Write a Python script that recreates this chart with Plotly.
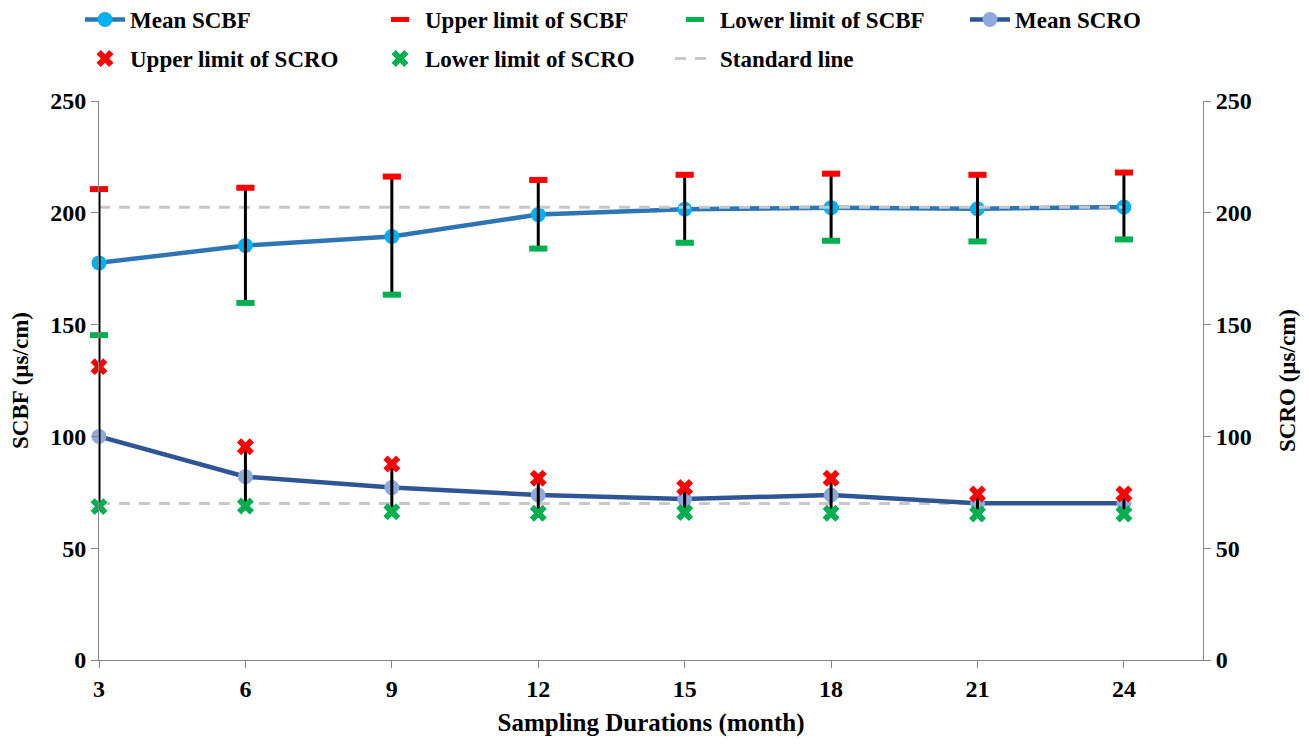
import plotly.graph_objects as go

months = [3, 6, 9, 12, 15, 18, 21, 24]

scbf_mean = [177.6, 185.4, 189.4, 199.2, 201.6, 202.3, 201.8, 202.6]
scbf_upper = [210.6, 211.2, 216.2, 214.7, 217.0, 217.5, 217.0, 218.0]
scbf_lower = [145.3, 159.7, 163.4, 184.0, 186.6, 187.5, 187.2, 188.1]
# extent of the black bar drawn around each SCBF mean
scbf_bar_top = [210.6, 211.2, 216.2, 214.7, 217.0, 217.5, 217.0, 218.0]
scbf_bar_bottom = [131.2, 159.7, 163.4, 184.0, 186.6, 187.5, 187.2, 188.1]

scro_mean = [100.0, 82.0, 77.1, 73.8, 72.0, 73.8, 70.1, 70.1]
scro_upper = [131.2, 95.4, 87.7, 81.3, 77.2, 81.3, 74.2, 74.2]
scro_lower = [68.6, 68.9, 66.3, 65.6, 66.0, 65.6, 65.3, 65.3]

standard_scbf = 202.5
standard_scro = 70.0

FONT = "Liberation Serif, DejaVu Serif, serif"
FS = 23

fig = go.Figure()

# mean lines
fig.add_trace(go.Scatter(
    x=months, y=scbf_mean, name="Mean SCBF", mode="lines+markers",
    line=dict(color="#2E75B6", width=4.5),
    marker=dict(color="#00B0F0", size=15, symbol="circle"),
    cliponaxis=False, legend="legend", legendrank=1))
fig.add_trace(go.Scatter(
    x=months, y=scro_mean, name="Mean SCRO", mode="lines+markers",
    line=dict(color="#2F5597", width=4.5),
    marker=dict(color="#8EA9DB", size=15, symbol="circle"),
    yaxis="y2", cliponaxis=False, legend="legend", legendrank=4))

# standard lines
fig.add_trace(go.Scatter(
    x=[months[0], months[-1], None, months[0], months[-1]],
    y=[standard_scbf, standard_scbf, None, standard_scro, standard_scro],
    name="Standard line", mode="lines",
    line=dict(color="#C8C8C8", width=3, dash="11px,9px"),
    cliponaxis=False, legend="legend2", legendrank=7))

# black bars
fig.add_trace(go.Scatter(
    x=months, y=scbf_mean, mode="markers", showlegend=False, hoverinfo="skip",
    marker=dict(size=0.1, color="rgba(0,0,0,0)"), cliponaxis=False,
    error_y=dict(type="data", symmetric=False,
                 array=[t - m for t, m in zip(scbf_bar_top, scbf_mean)],
                 arrayminus=[m - b for m, b in zip(scbf_mean, scbf_bar_bottom)],
                 color="black", thickness=3, width=0)))
fig.add_trace(go.Scatter(
    x=months, y=scro_mean, mode="markers", showlegend=False, hoverinfo="skip",
    yaxis="y2", cliponaxis=False,
    marker=dict(size=0.1, color="rgba(0,0,0,0)"),
    error_y=dict(type="data", symmetric=False,
                 array=[u - m for u, m in zip(scro_upper, scro_mean)],
                 arrayminus=[m - l for m, l in zip(scro_mean, scro_lower)],
                 color="black", thickness=3, width=0)))

# limit markers
fig.add_trace(go.Scatter(
    x=months, y=scbf_upper, name="Upper limit of SCBF", mode="markers",
    marker=dict(symbol="line-ew", size=13, line=dict(color="#FF0000", width=6)),
    cliponaxis=False, legend="legend", legendrank=2))
fig.add_trace(go.Scatter(
    x=months, y=scbf_lower, name="Lower limit of SCBF", mode="markers",
    marker=dict(symbol="line-ew", size=13, line=dict(color="#00B050", width=6)),
    cliponaxis=False, legend="legend", legendrank=3))
fig.add_trace(go.Scatter(
    x=months, y=scro_upper, name="Upper limit of SCRO", mode="markers",
    yaxis="y2", cliponaxis=False,
    marker=dict(symbol="x", size=15, color="#FF0000", line=dict(width=0)),
    legend="legend2", legendrank=5))
fig.add_trace(go.Scatter(
    x=months, y=scro_lower, name="Lower limit of SCRO", mode="markers",
    yaxis="y2", cliponaxis=False,
    marker=dict(symbol="x", size=15, color="#00B050", line=dict(width=0)),
    legend="legend2", legendrank=6))

axis_common = dict(
    range=[0, 250], dtick=50, showgrid=False, zeroline=False,
    showline=True, linecolor="#868686", linewidth=1,
    ticks="outside", ticklen=7, tickcolor="#868686", automargin=False,
    tickfont=dict(family=FONT, size=24, color="black", weight="bold"),
)

# page body has an 8px margin: figure is offset by 8px
W, H = 1301, 741
L, R, T, B = 91, 106, 93, 89
plot_h = H - T - B

legend_common = dict(
    orientation="h", xref="paper", yref="paper",
    x=(72 - L) / (W - L - R), xanchor="left", yanchor="top",
    entrywidth=240, entrywidthmode="pixels",
    font=dict(family=FONT, size=FS, weight="bold", color="black"),
    bgcolor="rgba(0,0,0,0)", traceorder="normal", itemwidth=40,
)

fig.update_layout(
    width=W, height=H,
    paper_bgcolor="white", plot_bgcolor="white",
    margin=dict(l=L, r=R, t=T, b=B, autoexpand=False),
    font=dict(family=FONT, size=FS, color="black", weight="bold"),
    xaxis=dict(
        range=[3, 25.62], tickvals=months, showgrid=False, zeroline=False,
        showline=True, linecolor="#868686", linewidth=1, automargin=False,
        ticks="outside", ticklen=7, tickcolor="#868686",
        tickfont=dict(family=FONT, size=24, color="black", weight="bold"),
        title=dict(text="Sampling Durations (month)",
                   font=dict(family=FONT, size=25, weight="bold"), standoff=12),
    ),
    yaxis=dict(**axis_common,
               title=dict(text="SCBF (µs/cm)",
                          font=dict(family=FONT, size=23, weight="bold"), standoff=16)),
    yaxis2=dict(**axis_common, overlaying="y", side="right",
                title=dict(text="SCRO (µs/cm)",
                           font=dict(family=FONT, size=23, weight="bold"), standoff=28)),
    legend=dict(**legend_common, y=1 + (T + 10) / plot_h),
    legend2=dict(**legend_common, y=1 + (T - 29) / plot_h),
    showlegend=True,
)

fig.write_html("out.html")
